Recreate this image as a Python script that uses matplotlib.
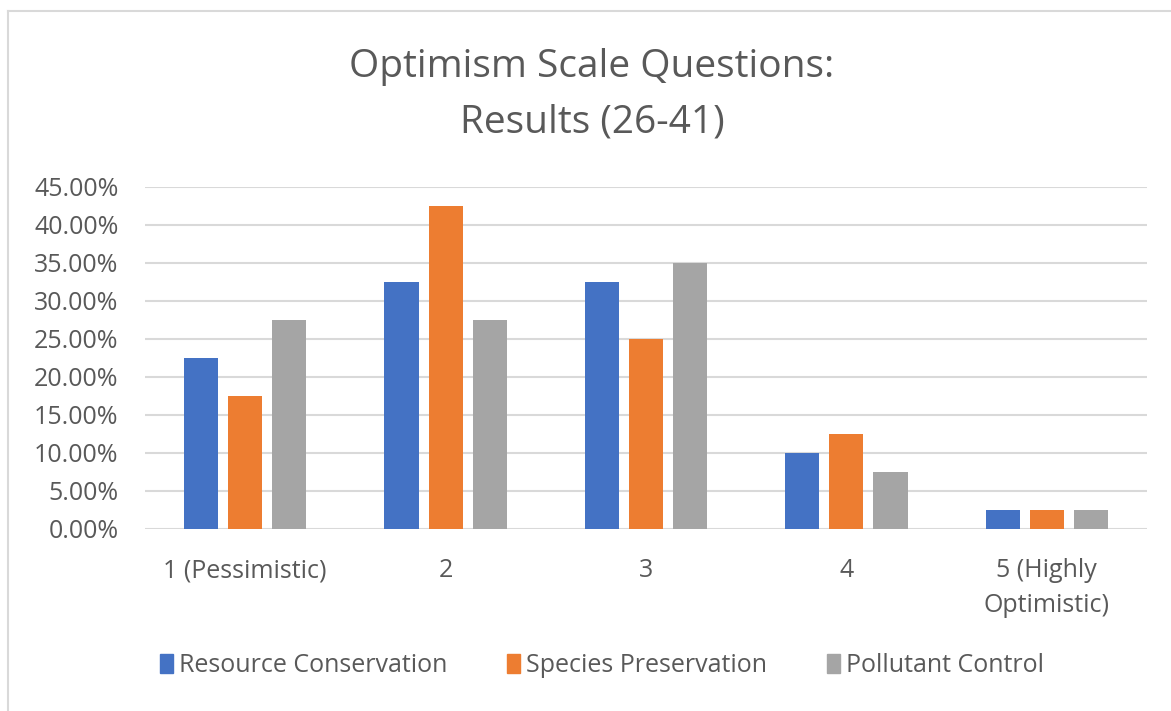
import matplotlib.pyplot as plt
from matplotlib.ticker import PercentFormatter
from matplotlib.lines import Line2D
import numpy as np

categories = ['1 (Pessimistic)', '2', '3', '4', '5 (Highly\nOptimistic)']
series_names = ['Resource Conservation', 'Species Preservation', 'Pollutant Control']
resource = [0.225, 0.325, 0.325, 0.100, 0.025]
species = [0.175, 0.425, 0.250, 0.125, 0.025]
pollutant = [0.275, 0.275, 0.350, 0.075, 0.025]
colors = ['#4472C4', '#ED7D31', '#A5A5A5']

plt.rcParams['font.family'] = ['Open Sans', 'DejaVu Sans']
text_color = '#595959'

W, H = 1171, 711
fig = plt.figure(figsize=(W / 100, H / 100), dpi=100)
fig.patch.set_facecolor('white')

# plot area in pixel coords of the reference
left, right, top, bottom = 145, 1147, 187, 529
ax = fig.add_axes([left / W, 1 - bottom / H, (right - left) / W, (bottom - top) / H])

x = np.arange(len(categories))
width = 0.17
step = 0.22
for i, (vals, name) in enumerate(zip([resource, species, pollutant], series_names)):
    ax.bar(x + (i - 1) * step, vals, width, color=colors[i], label=name, zorder=3)

ax.set_xlim(-0.5, len(categories) - 0.5)
ax.set_ylim(0, 0.45)
ax.set_yticks(np.arange(0, 0.451, 0.05))
ax.yaxis.set_major_formatter(PercentFormatter(1.0, decimals=2))
ax.set_xticks(x)
ax.set_xticklabels(categories, linespacing=1.5)
ax.grid(axis='y', color='#D9D9D9', linewidth=1.5, zorder=0)
for s in ax.spines.values():
    s.set_visible(False)
ax.tick_params(axis='both', length=0, labelsize=18, colors=text_color)
ax.tick_params(axis='x', pad=21)
ax.tick_params(axis='y', pad=19)

fig.text(592 / W, 1 - 95 / H, 'Optimism Scale Questions:\nResults (26-41)', ha='center', va='center',
         fontsize=28, color=text_color, linespacing=1.6)

handles = [plt.Rectangle((0, 0), 1, 1, color=c) for c in colors]
fig.legend(handles, series_names, loc='center', bbox_to_anchor=(602 / W, 1 - 666 / H), ncol=3,
           frameon=False, fontsize=18, labelcolor=text_color, handlelength=0.5, handleheight=0.8,
           handletextpad=0.25, columnspacing=2.4)

# chart border (only top and left edges visible in the crop)
fig.add_artist(Line2D([8 / W, 8 / W], [0, 1 - 11 / H], transform=fig.transFigure, color='#D9D9D9', linewidth=1.5))
fig.add_artist(Line2D([8 / W, 1], [1 - 11 / H, 1 - 11 / H], transform=fig.transFigure, color='#D9D9D9', linewidth=1.5))

plt.savefig('out.png', dpi=100, facecolor=fig.get_facecolor())
plt.close()
